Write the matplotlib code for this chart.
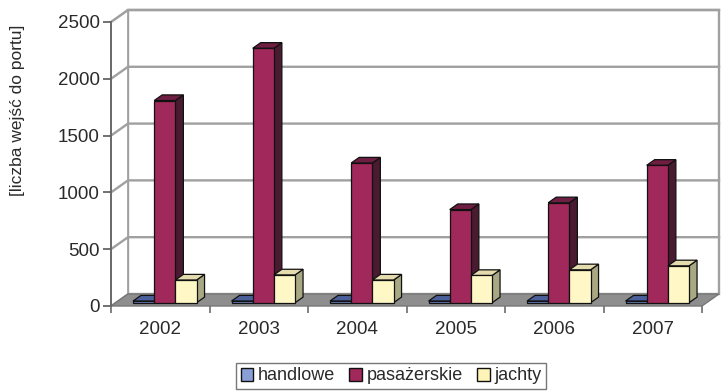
import matplotlib
matplotlib.use("Agg")
import matplotlib.pyplot as plt
from matplotlib.patches import Polygon, Patch
import numpy as np

plt.rcParams['font.family'] = ['Liberation Sans', 'DejaVu Sans']

# dane
lata = ['2002', '2003', '2004', '2005', '2006', '2007']
handlowe = [15, 15, 15, 15, 15, 15]
pasazerskie = [1780, 2240, 1230, 820, 880, 1210]
jachty = [200, 245, 200, 240, 290, 325]
serie = ['handlowe', 'pasażerskie', 'jachty']

# kolory: przod, bok, gora
kolory = {
    'handlowe': ('#6f86c8', '#2c3c6a', '#4a5f9a'),
    'pasażerskie': ('#a0285a', '#4a1b30', '#6e1e40'),
    'jachty': ('#fff7c6', '#a8a884', '#e4dcae'),
}
kolory_leg = {'handlowe': '#8a9ed8', 'pasażerskie': '#a0285a', 'jachty': '#fff4b8'}

YMAX = 2500
DX = 0.1726   # glebokosc w kategoriach
DY = 105.8    # glebokosc w jednostkach osi y
F0, F1 = 0.27, 0.74   # poczatek i koniec slupka w glebokosci
W = 0.215
START = 0.177
SZARY = '#a0a0a0'

fig = plt.figure(figsize=(7.28, 3.92), dpi=100)
ax = fig.add_axes([111/728, 86/392, 591/728, 284/392])
ax.set_xlim(0, 6)
ax.set_ylim(0, YMAX)

n = len(lata)
# sciany
tylna = Polygon([(DX, DY), (n + DX, DY), (n + DX, YMAX + DY), (DX, YMAX + DY)],
                closed=True, facecolor='white', edgecolor=SZARY, lw=1.7,
                clip_on=False, zorder=1)
lewa = Polygon([(0, 0), (DX, DY), (DX, YMAX + DY), (0, YMAX)], closed=True,
               facecolor='white', edgecolor=SZARY, lw=1.3, clip_on=False, zorder=1)
ax.add_patch(tylna)
ax.add_patch(lewa)
for v in range(500, YMAX + 1, 500):
    ax.plot([0, DX, n + DX], [v, v + DY, v + DY], color=SZARY, lw=1.7,
            clip_on=False, zorder=1.5)
# podloga
podloga = Polygon([(0, 0), (n, 0), (n + DX, DY), (DX, DY)], closed=True,
                  facecolor='#8e8e8e', edgecolor='#777777', lw=1.0,
                  clip_on=False, zorder=2)
ax.add_patch(podloga)

x = np.arange(n)
dane = {'handlowe': handlowe, 'pasażerskie': pasazerskie, 'jachty': jachty}
for k, s in enumerate(serie):
    front, bok, gora = kolory[s]
    left = x + START + k * W + F0 * DX
    bottom = F0 * DY
    d = (F1 - F0)
    for i in range(n):
        val = dane[s][i]
        x0 = left[i]
        x1 = x0 + W
        y0 = bottom
        y1 = bottom + val
        side = Polygon([(x1, y0), (x1 + d * DX, y0 + d * DY),
                        (x1 + d * DX, y1 + d * DY), (x1, y1)], closed=True,
                       facecolor=bok, edgecolor='#111111', lw=0.9, zorder=3 + k)
        top = Polygon([(x0, y1), (x1, y1), (x1 + d * DX, y1 + d * DY),
                       (x0 + d * DX, y1 + d * DY)], closed=True,
                      facecolor=gora, edgecolor='#111111', lw=0.9, zorder=3 + k)
        ax.add_patch(side)
        ax.add_patch(top)
    ax.bar(left, dane[s], width=W, bottom=bottom, align='edge', color=front,
           edgecolor='#111111', lw=0.9, zorder=3.5 + k)

# osie
for sp in ['top', 'right', 'bottom']:
    ax.spines[sp].set_visible(False)
ax.spines['left'].set_color('#666666')
ax.spines['left'].set_linewidth(1.3)
ax.spines['left'].set_zorder(2.5)
ax.set_yticks(range(0, YMAX + 1, 500))
ax.tick_params(axis='y', direction='out', length=6, width=1.3, color='#666666',
               labelsize=13.5, labelcolor='#2a2a2a', pad=2)
ax.set_xticks(x + 0.5)
ax.set_xticklabels(lata)
ax.set_xticks(np.arange(n + 1), minor=True)
ax.tick_params(axis='x', which='major', length=0, labelsize=13.5,
               labelcolor='#2a2a2a', pad=11)
ax.tick_params(axis='x', which='minor', direction='out', length=5, width=1.3,
               color='#777777')
ax.set_ylabel('[liczba wejść do portu]', fontsize=12.5, color='#2a2a2a')
ax.yaxis.set_label_coords(-0.145, 0.69)

uchwyty = [Patch(facecolor=kolory_leg[s], edgecolor='#111111', lw=1.0) for s in serie]
leg = fig.legend(uchwyty, serie, loc='center', bbox_to_anchor=(391/728, 1 - 376/392),
                 ncol=3, fontsize=13, frameon=True, fancybox=False,
                 handlelength=0.7, handleheight=0.7, handletextpad=0.25,
                 columnspacing=0.8, borderpad=0.25)
leg.get_frame().set_edgecolor('#555555')
leg.get_frame().set_linewidth(1.0)
for t in leg.get_texts():
    t.set_color('#2a2a2a')

fig.savefig('out.png', dpi=100)
